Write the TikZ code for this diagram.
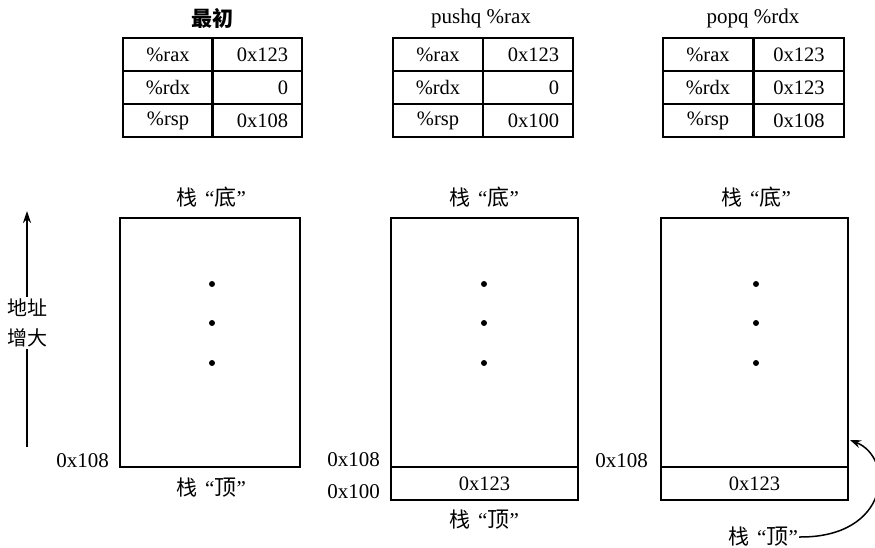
\documentclass[tikz,border=0pt]{standalone}
\usepackage{fontspec}
\setmainfont{Liberation Serif}
\newfontfamily\cjk{Noto Sans CJK SC}
\usetikzlibrary{arrows.meta}
\tikzset{
  lbl/.style={font=\fontsize{21}{24}\selectfont, inner sep=1pt},
  cell/.style={draw, line width=1.5pt, minimum width=90pt, minimum height=33pt, inner sep=0pt, font=\fontsize{20.5}{22}\selectfont},
  rcell/.style={cell, text width=62pt, align=right},
  ccell/.style={cell, text width=62pt, align=center},
  stackbox/.style={draw, line width=1.3pt, inner sep=0pt},
  dotmark/.style={circle, fill=black, inner sep=0pt, minimum size=6pt},
  conn/.style={line width=1.5pt},
}
\newcommand{\zhan}[1]{{\cjk\fontsize{21}{24}\selectfont 栈}\hspace{8pt}“{\cjk\fontsize{22}{24}\selectfont #1}”}
\begin{document}
\begin{tikzpicture}[x=1pt,y=-1pt]
\useasboundingbox (0,0) rectangle (875,548);
% ---------- tables ----------
\node[lbl] (h1) at (212,18) {\cjk\bfseries 最初};
\node[lbl] (h2) at (481,18) {pushq \%rax};
\node[lbl] (h3) at (753,18) {popq \%rdx};

\node[cell] (a1) at (168,54.5) {\%rax};
\node[rcell] (b1) at (257,54.5) {0x123};
\node[cell] (a2) at (168,87.5) {\%rdx};
\node[rcell] (b2) at (257,87.5) {0};
\node[cell] (a3) at (168,120.5) {\%rsp};
\node[rcell] (b3) at (257,120.5) {0x108};

\node[cell] (c1) at (438,54.5) {\%rax};
\node[rcell] (d1) at (528,54.5) {0x123};
\node[cell] (c2) at (438,87.5) {\%rdx};
\node[rcell] (d2) at (528,87.5) {0};
\node[cell] (c3) at (438,120.5) {\%rsp};
\node[rcell] (d3) at (528,120.5) {0x100};

\node[cell] (e1) at (708,54.5) {\%rax};
\node[ccell] (f1) at (799,54.5) {0x123};
\node[cell] (e2) at (708,87.5) {\%rdx};
\node[ccell] (f2) at (799,87.5) {0x123};
\node[cell] (e3) at (708,120.5) {\%rsp};
\node[ccell] (f3) at (799,120.5) {0x108};

% ---------- stacks ----------
\node[lbl] (bot1) at (211,197) {\zhan{底}};
\node[lbl] (bot2) at (484,197) {\zhan{底}};
\node[lbl] (bot3) at (756,197) {\zhan{底}};

\node[stackbox, minimum width=180pt, minimum height=249pt] (s1) at (210,342.5) {};
\node[stackbox, minimum width=187pt, minimum height=249pt] (s2) at (484.5,342.5) {};
\node[stackbox, minimum width=187pt, minimum height=33pt, font=\fontsize{20.5}{22}\selectfont] (s2b) at (484.5,483.5) {0x123};
\node[stackbox, minimum width=187pt, minimum height=249pt] (s3) at (754.5,342.5) {};
\node[stackbox, minimum width=187pt, minimum height=33pt, font=\fontsize{20.5}{22}\selectfont] (s3b) at (754.5,483.5) {0x123};

\foreach \x/\n in {212/p, 484/q, 756/r}{
  \node[dotmark] (\n1) at (\x,284) {};
  \node[dotmark] (\n2) at (\x,323) {};
  \node[dotmark] (\n3) at (\x,363) {};
}

\node[lbl, anchor=east] (m1) at (110,461) {0x108};
\node[lbl, anchor=east] (m2) at (381,460) {0x108};
\node[lbl, anchor=east] (m3) at (381,492) {0x100};
\node[lbl, anchor=east] (m4) at (649,461) {0x108};

\node[lbl] (top1) at (211,488) {\zhan{顶}};
\node[lbl] (top2) at (484,520) {\zhan{顶}};
\node[lbl] (top3) at (763,537) {\zhan{顶}};

\coordinate (tip3) at (850,440);
\draw[conn, -{Stealth[length=11pt,width=8pt]}] (top3.east) .. controls (890,538) and (895,458) .. (tip3);

% ---------- address arrow ----------
\node[font=\cjk\fontsize{20}{30}\selectfont, align=center, inner sep=2pt] (addr) at (27,323) {地址\\增大};
\coordinate (ab) at (27,447);
\coordinate (at) at (27,211);
\draw[conn] (ab) -- (addr.south);
\draw[conn, -{Stealth[length=12pt,width=8pt]}] (addr.north) -- (at);
\end{tikzpicture}
\end{document}
